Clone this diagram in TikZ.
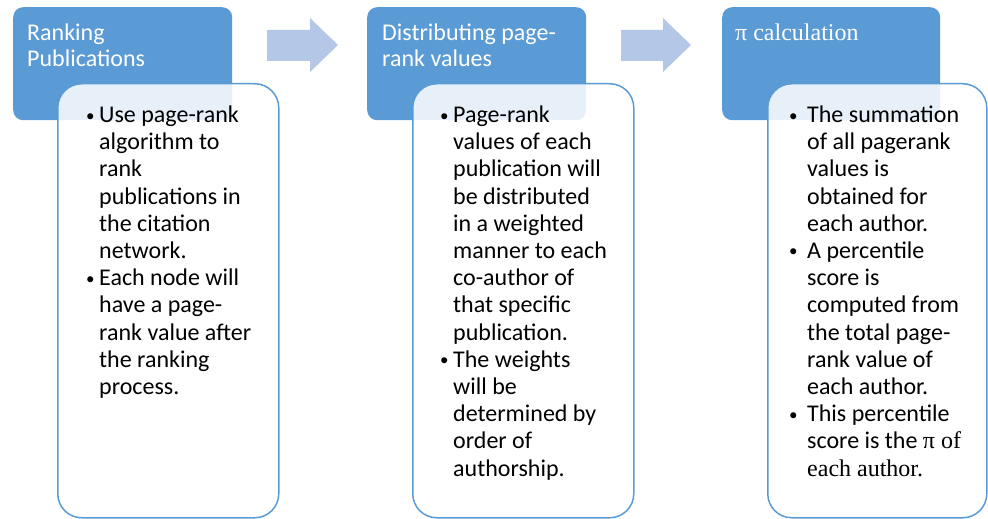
\documentclass[tikz,border=0pt]{standalone}
\usepackage{fontspec}
\setmainfont{Carlito}
\newfontfamily\serifpi{Liberation Serif}
\definecolor{hdr}{HTML}{5B9BD5}
\definecolor{arr}{HTML}{B4C7E7}
\newcommand{\bul}{\raisebox{1.5pt}{\fontsize{17}{17}\selectfont\textbullet}}
\begin{document}
\begin{tikzpicture}[x=1pt,y=-1pt,
  hdrbox/.style={fill=hdr, draw=none, rounded corners=10pt, inner sep=0pt, anchor=north west},
  bodybox/.style={draw=hdr, line width=1.5pt, fill=white, fill opacity=0.86, rounded corners=24pt, inner sep=0pt, anchor=north west},
  blockarrow/.style={fill=arr, draw=none},
  hdrtext/.style={text=white, inner sep=0pt, anchor=base west, font=\fontsize{24}{26}\selectfont},
  bodytext/.style={text=black, inner sep=0pt, anchor=base west, font=\fontsize{24}{27.2}\selectfont}
]
\useasboundingbox (0,0) rectangle (988,519);

% headers
\node[hdrbox, minimum width=219pt, minimum height=113pt] (h1) at (13,7) {};
\node[hdrbox, minimum width=219pt, minimum height=113pt] (h2) at (367,7) {};
\node[hdrbox, minimum width=218pt, minimum height=113pt] (h3) at (722,7) {};

% body boxes
\node[bodybox, minimum width=221pt, minimum height=434pt] (b1) at (57,83) {};
\node[bodybox, minimum width=221pt, minimum height=434pt] (b2) at (412,83) {};
\node[bodybox, minimum width=219pt, minimum height=434pt] (b3) at (767,83) {};

% block arrows
\fill[blockarrow] (267,30) -- (310,30) -- (310,18) -- (338,45) -- (310,72) -- (310,61) -- (267,61) -- cycle;
\fill[blockarrow] (621,30) -- (663,30) -- (663,18) -- (691,45) -- (663,72) -- (663,61) -- (621,61) -- cycle;

% header texts
\node[hdrtext] (t1) at (27,41) {\begin{tabular}[t]{@{}l@{}}Ranking\\Publications\end{tabular}};
\node[hdrtext] (t2) at (382,41) {\begin{tabular}[t]{@{}l@{}}Distributing page-\\rank values\end{tabular}};
\node[hdrtext] (t3) at (735,41) {\serifpi π calculation};

% body texts
\node[bodytext] (x1) at (86,122.5) {\begin{tabular}[t]{@{}p{13pt}@{}l@{}}
\bul & Use page-rank\\
 & algorithm to\\
 & rank\\
 & publications in\\
 & the citation\\
 & network.\\
\bul & Each node will\\
 & have a page-\\
 & rank value after\\
 & the ranking\\
 & process.
\end{tabular}};

\node[bodytext] (x2) at (440,122.5) {\begin{tabular}[t]{@{}p{13pt}@{}l@{}}
\bul & Page-rank\\
 & values of each\\
 & publication will\\
 & be distributed\\
 & in a weighted\\
 & manner to each\\
 & co-author of\\
 & that specific\\
 & publication.\\
\bul & The weights\\
 & will be\\
 & determined by\\
 & order of\\
 & authorship.
\end{tabular}};

\node[bodytext] (x3) at (789,122.5) {\begin{tabular}[t]{@{}p{18pt}@{}l@{}}
\bul & The summation\\
 & of all pagerank\\
 & values is\\
 & obtained for\\
 & each author.\\
\bul & A percentile\\
 & score is\\
 & computed from\\
 & the total page-\\
 & rank value of\\
 & each author.\\
\bul & This percentile\\
 & score is the {\serifpi π of}\\
 & {\serifpi each author.}
\end{tabular}};
\end{tikzpicture}
\end{document}
